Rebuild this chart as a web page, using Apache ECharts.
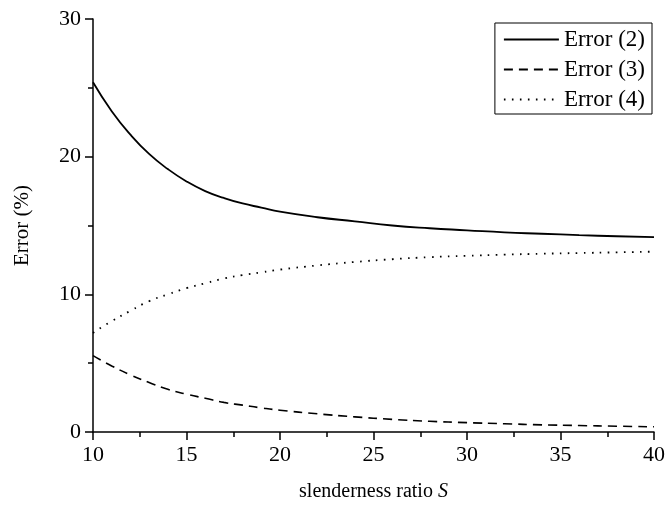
<!DOCTYPE html>
<html>
<head>
<meta charset="utf-8">
<script src="https://cdn.jsdelivr.net/npm/echarts@6/dist/echarts.min.js"></script>
<style>
html,body{margin:0;padding:0;background:#fff;}
#chart{width:668px;height:510px;}
</style>
</head>
<body>
<div id="chart"></div>
<script>
const S = [10, 11, 12, 13, 14, 15, 16, 17, 18, 19, 20, 22, 24, 26, 28, 30, 32, 34, 36, 38, 40];
const error2 = [25.4, 23.3, 21.6, 20.2, 19.1, 18.2, 17.5, 17.0, 16.6, 16.3, 16.0, 15.6, 15.3, 15.0, 14.8, 14.65, 14.5, 14.4, 14.3, 14.22, 14.15];
const error3 = [5.55, 4.8, 4.15, 3.6, 3.1, 2.75, 2.45, 2.15, 1.95, 1.75, 1.58, 1.32, 1.1, 0.92, 0.78, 0.68, 0.6, 0.52, 0.47, 0.42, 0.38];
const error4 = [7.2, 8.05, 8.8, 9.5, 10.0, 10.45, 10.8, 11.15, 11.4, 11.6, 11.8, 12.1, 12.35, 12.55, 12.7, 12.8, 12.88, 12.95, 13.0, 13.05, 13.1];
const seriesNames = ['Error (2)', 'Error (3)', 'Error (4)'];
const xTicks = [10, 15, 20, 25, 30, 35, 40];
const yTicks = [0, 10, 20, 30];

const FONT = 'Liberation Serif';
const pairs = arr => S.map((s, i) => [s, arr[i]]);

const chart = echarts.init(document.getElementById('chart'), null, {renderer: 'canvas'});
const axisCommon = {
  axisLine: {show: true, lineStyle: {color: '#000', width: 1.5}},
  axisTick: {show: true, inside: false, length: 8, lineStyle: {color: '#000', width: 1.5}},
  minorTick: {show: true, splitNumber: 2, length: 5, lineStyle: {color: '#000', width: 1.5}},
  splitLine: {show: false},
  axisLabel: {color: '#000', fontFamily: FONT, fontSize: 22}
};
chart.setOption({
  animation: false,
  backgroundColor: '#fff',
  textStyle: {fontFamily: FONT},
  grid: {left: 93, right: 13, top: 19, bottom: 78, containLabel: false},
  legend: {
    orient: 'vertical',
    right: 16,
    top: 23,
    data: seriesNames,
    itemWidth: 55,
    itemHeight: 14,
    itemGap: 7,
    padding: [5, 7, 3, 8],
    borderColor: '#000',
    borderWidth: 1,
    borderRadius: 0,
    itemStyle: {opacity: 0},
    textStyle: {color: '#000', fontFamily: FONT, fontSize: 23}
  },
  xAxis: Object.assign({}, axisCommon, {
    type: 'value', min: 10, max: 40, interval: 5,
    axisLabel: Object.assign({}, axisCommon.axisLabel, {margin: 12, formatter: v => xTicks.includes(v) ? String(v) : ''}),
    name: '{n|slenderness ratio }{i|S}',
    nameLocation: 'middle',
    nameGap: 50,
    nameTextStyle: {
      rich: {
        n: {fontFamily: FONT, fontSize: 20, color: '#000'},
        i: {fontFamily: FONT, fontSize: 20, color: '#000', fontStyle: 'italic'}
      }
    }
  }),
  yAxis: Object.assign({}, axisCommon, {
    type: 'value', min: 0, max: 30, interval: 10,
    axisLabel: Object.assign({}, axisCommon.axisLabel, {margin: 12, formatter: v => yTicks.includes(v) ? String(v) : ''}),
    name: 'Error (%)',
    nameLocation: 'middle',
    nameGap: 60,
    nameRotate: 90,
    nameTextStyle: {fontFamily: FONT, fontSize: 21, color: '#000'}
  }),
  series: [
    {name: seriesNames[0], type: 'line', data: pairs(error2), smooth: true, symbol: 'none',
     lineStyle: {color: '#000', width: 1.8, type: 'solid'}, itemStyle: {color: '#000'}},
    {name: seriesNames[1], type: 'line', data: pairs(error3), smooth: true, symbol: 'none',
     lineStyle: {color: '#000', width: 1.6, type: [9, 6]}, itemStyle: {color: '#000'}},
    {name: seriesNames[2], type: 'line', data: pairs(error4), smooth: true, symbol: 'none',
     lineStyle: {color: '#000', width: 1.8, type: [1.6, 6.4]}, itemStyle: {color: '#000'}}
  ]
});
</script>
</body>
</html>
